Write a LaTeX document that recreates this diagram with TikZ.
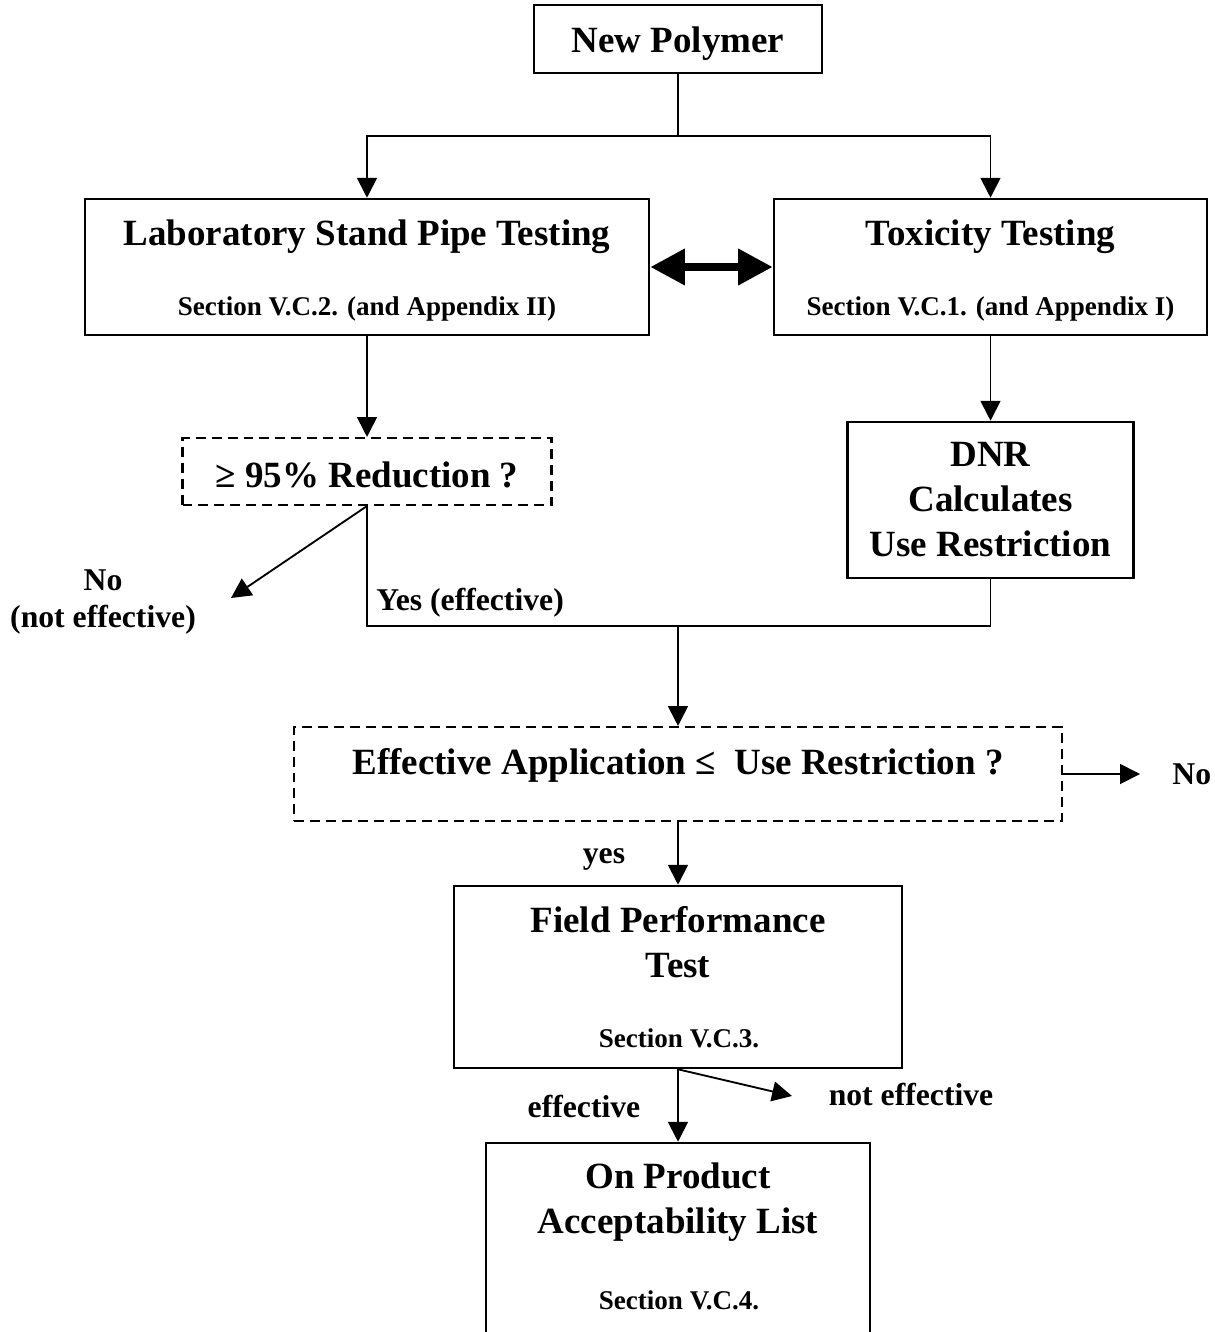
\documentclass[tikz,border=0pt]{standalone}
\usepackage{fontspec}
\setmainfont{Liberation Serif}
\usetikzlibrary{arrows.meta,positioning}

\begin{document}
\begin{tikzpicture}[x=0.4324pt, y=-0.4324pt,
  box/.style 2 args={draw, line width=1.1pt, minimum width=#1*0.4324pt, minimum height=#2*0.4324pt, inner sep=0pt},
  ask/.style 2 args={box={#1}{#2}, dash pattern=on 4.3pt off 2.6pt, line width=0.9pt},
  big/.style={font=\fontsize{16}{19.3}\selectfont\bfseries, align=center, anchor=base, inner sep=0pt},
  small/.style={font=\fontsize{11.7}{14}\selectfont\bfseries, anchor=base, inner sep=0pt},
  lbl/.style={font=\fontsize{13.7}{15.6}\selectfont\bfseries, align=center, anchor=base, inner sep=0pt},
  arr/.style={-{Triangle[length=8.6pt,width=8.6pt]}, line width=0.8pt},
  link/.style={line width=0.8pt}]

\useasboundingbox (0,0) rectangle (1214,1332);

% boxes
\node[box={288}{68}] (poly) at (678,39) {};
\node[box={564}{136}] (lab) at (367,267) {};
\node[box={433}{136}] (tox) at (990.5,267) {};
\node[ask={369}{67}] (red) at (367,471.5) {};
\node[box={286}{156}] (dnr) at (990.5,500) {};
\node[ask={768}{94}] (app) at (678,774) {};
\node[box={448}{182}] (field) at (678,977) {};
\node[box={384}{200}] (list) at (678,1243) {};

% texts (multi-line ones sit on their last baseline)
\node[big] (polyt) at (678,52) {New Polymer};
\node[big] (labt) at (367,245) {Laboratory Stand Pipe Testing};
\node[small] (labs) at (367,315) {Section V.C.2. (and Appendix II)};
\node[big] (toxt) at (990.5,245) {Toxicity Testing};
\node[small] (toxs) at (990.5,315) {Section V.C.1. (and Appendix I)};
\node[big] (redt) at (367,487) {≥ 95\% Reduction ?};
\node[big] (dnrt) at (990.5,556) {DNR\\Calculates\\Use Restriction};
\node[lbl] (no1) at (103,627) {No\\(not effective)};
\node[lbl, anchor=base west] (yes1) at (376,610) {Yes (effective)};
\node[big] (appt) at (678,774) {Effective Application ≤\ \ Use Restriction ?};
\node[lbl, anchor=base west] (no2) at (1172,784) {No};
\node[lbl] (yes2) at (604,863) {yes};
\node[big] (fieldt) at (678,977) {Field Performance\\Test};
\node[small] (fields) at (679,1047) {Section V.C.3.};
\node[lbl] (eff) at (584,1117) {effective};
\node[lbl] (noeff) at (911,1105) {not effective};
\node[big] (listt) at (678,1233) {On Product\\Acceptability List};
\node[small] (lists) at (679,1309) {Section V.C.4.};

% connectors
\coordinate (fork) at (678,136);
\coordinate (join) at (678,626);
\coordinate (noend) at (231,598);
\coordinate (noarr) at (1140,774);
\coordinate (offend) at (792,1096);
\draw[link] (poly.south) -- (fork);
\draw[arr] (fork) -| (lab.north);
\draw[arr] (fork) -| (tox.north);
\draw[line width=3.5pt, {Triangle[length=15pt,width=15pt]}-{Triangle[length=15pt,width=15pt]}] (lab.east) -- (tox.west);
\draw[arr] (lab.south) -- (red.north);
\draw[arr] (tox.south) -- (dnr.north);
\draw[arr] (red.south) -- (noend);
\draw[link] (red.south) |- (join) -| (dnr.south);
\draw[arr] (join) -- (app.north);
\draw[arr] (app.east) -- (noarr);
\draw[arr] (app.south) -- (field.north);
\draw[arr] (field.south) -- (list.north);
\draw[arr] (field.south) -- (offend);
\end{tikzpicture}
\end{document}
